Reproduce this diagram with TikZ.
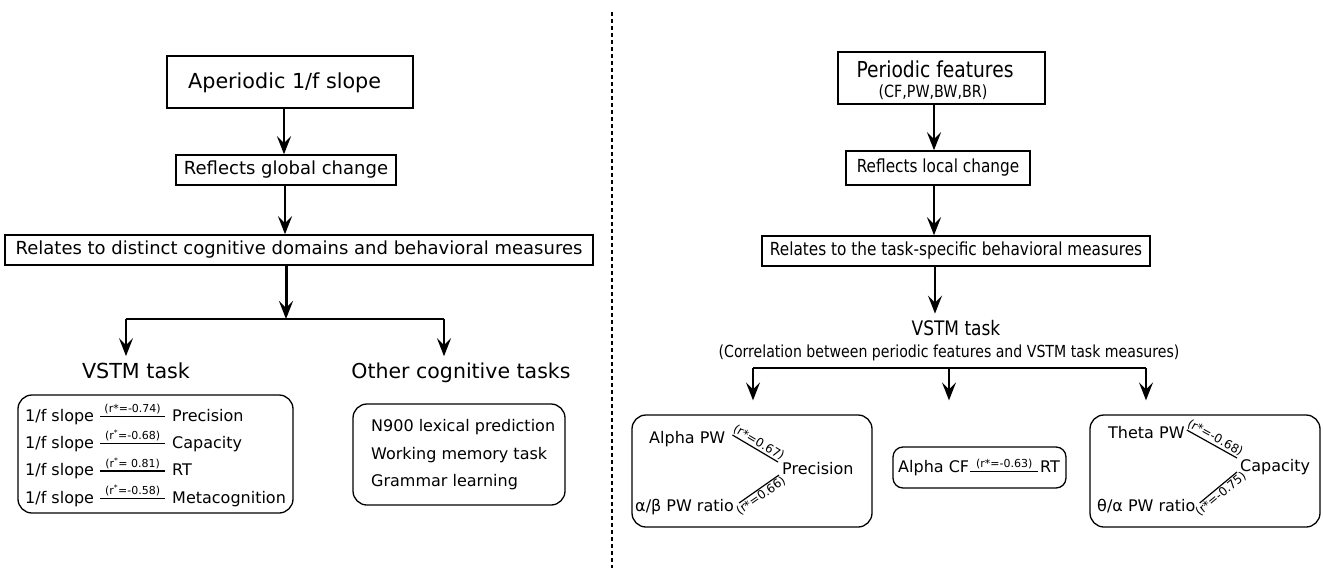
\documentclass[tikz,border=0pt]{standalone}
\usepackage{fontspec}
\setmainfont{DejaVu Sans}
\newfontfamily\condf[FakeStretch=0.85]{DejaVu Sans}
\usetikzlibrary{arrows.meta,calc}
\newcommand\fsz[1]{\fontsize{#1}{#1}\selectfont}
\begin{document}
\begin{tikzpicture}[x=1pt,y=-1pt,
  arr/.style={line width=2.5pt,-{Stealth[length=18pt,width=14pt,inset=7pt]}},
  sqbox/.style={draw,line width=1.5pt,inner sep=0pt},
  rbox/.style={draw,line width=1.3pt,rounded corners=14pt,inner sep=0pt},
  txt/.style={inner sep=0pt},
  rel/.style={line width=1.2pt},
  lab/.style={font=\fsz{11},inner sep=1.5pt},
  slab/.style={font=\fsz{12},inner sep=1pt},
  small/.style={font=\fsz{16}},
]
\useasboundingbox (0,0) rectangle (1323,568);

% ---------------- left half ----------------
\node[sqbox,line width=2pt,minimum width=246pt,minimum height=52pt] (ap) at (290,82) {};
\node[txt,font=\fsz{20.7},anchor=base west] (apt) at (188,88) {Aperiodic 1/f slope};
\node[sqbox,font=\fsz{18},minimum width=220pt,minimum height=30pt] (rg) at (286,170) {Reflects global change};
\node[sqbox,font=\fsz{18},minimum width=588pt,minimum height=30pt] (rd) at (299,250) {Relates to distinct cognitive domains and behavioral measures};

\draw[arr] ([xshift=-6pt]ap.south) -- ([xshift=-6pt]ap.south |- rg.north);
\draw[arr] ([xshift=-1pt]rg.south) -- ([xshift=-1pt]rg.south |- rd.north);

\coordinate (jL) at (286,319);
\coordinate (bl) at (126,319);
\coordinate (br) at (444,319);
\draw[arr,line width=3pt] (jL |- rd.south) -- (jL);
\draw[line width=2.4pt] (bl) -- (br);

\node[txt,font=\fsz{20.7},anchor=base] (vstmL) at (136,378) {VSTM task};
\node[txt,font=\fsz{20.5},anchor=base] (oth) at (461,378) {Other cognitive tasks};
\draw[arr,shorten >=6pt] (bl) -- (bl |- vstmL.north);
\draw[arr,shorten >=6pt] (br) -- (br |- oth.north);

\node[rbox,minimum width=275pt,minimum height=118pt] (vb) at (155.5,454) {};
\node[txt,small,anchor=base west] (s1) at (25,421) {1/f slope};
\node[txt,small,anchor=base west] (s2) at (25,448) {1/f slope};
\node[txt,small,anchor=base west] (s3) at (25,475.5) {1/f slope};
\node[txt,small,anchor=base west] (s4) at (25,503) {1/f slope};
\node[txt,small,anchor=base west] (m1) at (172,421) {Precision};
\node[txt,small,anchor=base west] (m2) at (172,448) {Capacity};
\node[txt,small,anchor=base west] (m3) at (172,475.5) {RT};
\node[txt,small,anchor=base west] (m4) at (172,503) {Metacognition};
\draw[rel] ($(s1.base east)+(6,-4.5)$) -- ($(m1.base west)+(-7,-4.5)$) node[lab,midway,above] {(r*=-0.74)};
\draw[rel] ($(s2.base east)+(6,-4.5)$) -- ($(m2.base west)+(-7,-4.5)$) node[lab,midway,above] {(r\textsuperscript{*}=-0.68)};
\draw[rel] ($(s3.base east)+(6,-4.5)$) -- ($(m3.base west)+(-7,-4.5)$) node[lab,midway,above] {(r\textsuperscript{*}= 0.81)};
\draw[rel] ($(s4.base east)+(6,-4.5)$) -- ($(m4.base west)+(-7,-4.5)$) node[lab,midway,above] {(r\textsuperscript{*}=-0.58)};

\node[rbox,minimum width=212pt,minimum height=101pt] (ob) at (459,454.5) {};
\node[txt,small,anchor=base west] (o1) at (371,431) {N900 lexical prediction};
\node[txt,small,anchor=base west] (o2) at (371,459) {Working memory task};
\node[txt,small,anchor=base west] (o3) at (371,486) {Grammar learning};

% divider
\draw[line width=2.5pt,dash pattern=on 4pt off 3pt] (612,12) -- (612,568);

% ---------------- right half ----------------
\node[sqbox,line width=2pt,minimum width=207pt,minimum height=52pt] (pf) at (941.5,78) {};
\node[txt,font=\condf\fsz{22},anchor=base] (pft) at (935,77) {Periodic features};
\node[txt,font=\condf\fsz{16.8},anchor=base] (pfs) at (933,97) {(CF,PW,BW,BR)};
\node[sqbox,font=\condf\fsz{18},minimum width=184pt,minimum height=34pt] (rl) at (938,168) {Reflects local change};
\node[sqbox,font=\condf\fsz{18},minimum width=388pt,minimum height=30pt] (rt) at (956,251) {Relates to the task-specific behavioral measures};

\draw[arr] ([xshift=-7.5pt]pf.south) -- ([xshift=-7.5pt]pf.south |- rl.north);
\draw[arr] ([xshift=-4pt]rl.south) -- ([xshift=-4pt]rl.south |- rt.north);

\node[txt,font=\condf\fsz{20},anchor=base] (vst) at (956,335) {VSTM task};
\node[txt,font=\condf\fsz{16.6},anchor=base] (cor) at (949,357) {(Correlation between periodic features and VSTM task measures)};
\draw[arr,shorten >=6pt] ([xshift=-21pt]rt.south) -- ([xshift=-21pt]rt.south |- vst.north);

\coordinate (c1) at (753,368);
\coordinate (c2) at (949,368);
\coordinate (c3) at (1146,368);
\draw[line width=2.4pt] (c1) -- (c3);

\node[rbox,minimum width=240pt,minimum height=112pt] (pb) at (752,471) {};
\node[rbox,rounded corners=10pt,minimum width=173pt,minimum height=41pt] (cb) at (979.5,467.5) {};
\node[rbox,minimum width=230pt,minimum height=112pt] (qb) at (1205,471) {};

\draw[arr,shorten >=14pt] (c1) -- (c1 |- pb.north);
\draw[arr,shorten >=46pt] (c2) -- (c2 |- cb.north);
\draw[arr,shorten >=14pt] (c3) -- (c3 |- qb.north);

% precision box
\node[txt,small,anchor=base west] (apw) at (649,443) {Alpha PW};
\node[txt,small,anchor=base west] (prec) at (782,474) {Precision};
\node[txt,small,anchor=base west] (abr) at (635,511) {α/β PW ratio};
\draw[rel] ($(apw.base east)+(7,-8)$) -- ($(prec.base west)+(-4,-12)$) node[slab,pos=0.5,sloped,above] {(r*=0.67)};
\draw[rel] ($(abr.base east)+(5,-8)$) -- ($(prec.base west)+(-3,1)$) node[slab,pos=0.45,sloped,below] {(r*=0.66)};

% RT box
\node[txt,small,anchor=base west] (acf) at (898,472.5) {Alpha CF};
\node[txt,small,anchor=base west] (rtn) at (1040,472.5) {RT};
\draw[rel] ($(acf.base east)+(1,-1)$) -- ($(rtn.base west)+(-2,-1)$) node[lab,midway,above] {(r*=-0.63)};

% capacity box
\node[txt,small,anchor=base west] (tpw) at (1108,438) {Theta PW};
\node[txt,small,anchor=base west] (cap) at (1240,471) {Capacity};
\node[txt,small,anchor=base west] (tar) at (1097,511) {θ/α PW ratio};
\draw[rel] ($(tpw.base east)+(2,-8)$) -- ($(cap.base west)+(-3,-13)$) node[slab,pos=0.5,sloped,above] {(r*=-0.68)};
\draw[rel] ($(tar.base east)+(4,-8)$) -- ($(cap.base west)+(-3,1)$) node[slab,pos=0.45,sloped,below] {(r*=-0.75)};
\end{tikzpicture}
\end{document}
